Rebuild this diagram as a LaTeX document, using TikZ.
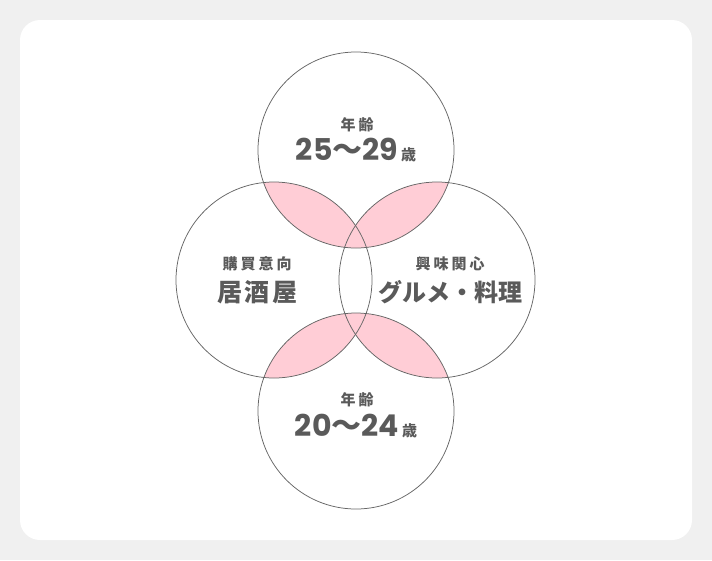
\documentclass[tikz,border=0pt]{standalone}
\usepackage{fontspec}
\newfontfamily\jp{Noto Sans CJK JP}
\newfontfamily\jpsm[LetterSpace=20]{Noto Sans CJK JP}
\IfFontExistsTF{Noto Sans CJK JP Black}
  {\newfontfamily\jpbk[LetterSpace=10]{Noto Sans CJK JP Black}\newfontfamily\jpbkn{Noto Sans CJK JP Black}}
  {\newfontfamily\jpbk[LetterSpace=10,UprightFont=*-Bold]{Noto Sans CJK JP}\newfontfamily\jpbkn[UprightFont=*-Bold]{Noto Sans CJK JP}}
\newfontfamily\pop{Poppins}
\definecolor{bgc}{HTML}{F0F0F0}
\definecolor{pinkc}{HTML}{FFCDD6}
\definecolor{linec}{HTML}{666666}
\definecolor{txtc}{HTML}{5A5A5A}
\begin{document}
\begin{tikzpicture}[x=1pt,y=-1pt,
  ring/.style={draw=linec,line width=0.75pt},
  small/.style={text=txtc,font=\jpsm\bfseries\fontsize{15}{15}\selectfont,inner sep=0pt},
  big/.style={text=txtc,font=\jpbk\fontsize{25}{25}\selectfont,inner sep=0pt},
  num/.style={text=txtc,inner sep=0pt}]
\useasboundingbox (0,0) rectangle (712,560);
\fill[bgc] (0,0) rectangle (712,560);
\fill[white,rounded corners=20pt] (20,20) rectangle (692,540);
\coordinate (T) at (356,150);
\coordinate (L) at (274,280);
\coordinate (R) at (437,280);
\coordinate (B) at (356,411);
\def\rr{98}
\begin{scope}\clip (T) circle (\rr); \fill[pinkc] (L) circle (\rr); \fill[pinkc] (R) circle (\rr);\end{scope}
\begin{scope}\clip (B) circle (\rr); \fill[pinkc] (L) circle (\rr); \fill[pinkc] (R) circle (\rr);\end{scope}
\foreach \c in {T,L,R,B} \draw[ring] (\c) circle (\rr);
\node[small] (t1) at (357,125) {年齢};
\node[num,anchor=base] (t2) at (356,160) {{\pop\bfseries\fontsize{30}{30}\selectfont 25}{\jp\bfseries\fontsize{30}{30}\selectfont 〜}{\pop\bfseries\fontsize{30}{30}\selectfont 29}\hspace{3pt}{\jp\bfseries\fontsize{15}{15}\selectfont 歳}};
\node[small] (l1) at (257,264) {購買意向};
\node[big] (l2) at (257,292) {居酒屋};
\node[small] (r1) at (450,264) {興味関心};
\node[big,font=\jpbkn\fontsize{24}{24}\selectfont] (r2) at (450,292) {グルメ・料理};
\node[small] (b1) at (357,400) {年齢};
\node[num,anchor=base] (b2) at (356,436) {{\pop\bfseries\fontsize{30}{30}\selectfont 20}{\jp\bfseries\fontsize{30}{30}\selectfont 〜}{\pop\bfseries\fontsize{30}{30}\selectfont 24}\hspace{3pt}{\jp\bfseries\fontsize{15}{15}\selectfont 歳}};
\end{tikzpicture}
\end{document}
